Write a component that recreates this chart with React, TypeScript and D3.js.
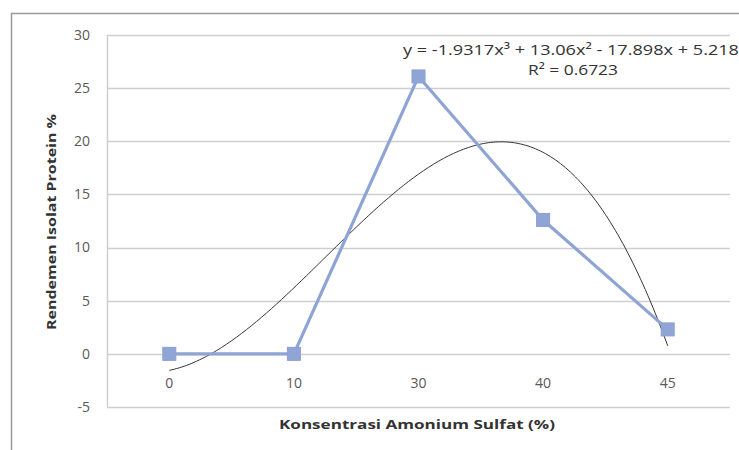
import React from "react";
import * as d3 from "d3";

const categories = ["0", "10", "30", "40", "45"];
const values = [0, 0, 26.1, 12.6, 2.3];
const yTicks = [-5, 0, 5, 10, 15, 20, 25, 30];
// trendline polynomial coefficients (x^3, x^2, x, const), x = 1..n
const trendCoefs = [-1.9317, 13.06, -17.898, 5.218];
const equationText = "y = -1.9317x³ + 13.06x² - 17.898x + 5.218";
const r2Text = "R² = 0.6723";
const yTitle = "Rendemen Isolat Protein %";
const xTitle = "Konsentrasi  Amonium Sulfat (%)";

export default function App() {
  const W = 739, H = 450;
  const left = 107, right = 730, top = 35, bottom = 407;
  const x = d3.scaleBand<string>().domain(categories).range([left, right]);
  const cx = (c: string) => (x(c) as number) + x.bandwidth() / 2;
  const y = d3.scaleLinear().domain([-5, 30]).range([bottom, top]);
  const font = "'Open Sans', 'Liberation Sans', sans-serif";

  const line = d3.line<number>().x((_, i) => cx(categories[i])).y((d) => y(d));

  const xt = d3.scaleLinear().domain([1, categories.length]).range([cx(categories[0]), cx(categories[categories.length - 1])]);
  const poly = (t: number) => trendCoefs[0] * t ** 3 + trendCoefs[1] * t ** 2 + trendCoefs[2] * t + trendCoefs[3];
  const ts = d3.range(1, 5.0001, 0.02);
  const trend = d3.line<number>().x((t) => xt(t)).y((t) => y(poly(t)))(ts);

  return (
    <svg width={W} height={H} style={{ position: "absolute", left: 0, top: 0, background: "#fff" }}>
      <rect x={0} y={0} width={W} height={H} fill="#fff" />
      {/* outer chart border */}
      <path d={`M11.5,${H} V13.5 H${W}`} fill="none" stroke="#9a9a9a" strokeWidth={1.5} />
      {/* gridlines */}
      {yTicks.map((t) => (
        <line key={t} x1={left} x2={right} y1={Math.round(y(t)) + 0.5} y2={Math.round(y(t)) + 0.5} stroke="#cfcfcf" strokeWidth={1.5} />
      ))}
      <line x1={left + 0.5} x2={left + 0.5} y1={top} y2={bottom} stroke="#cfcfcf" strokeWidth={1.5} />
      {/* y tick labels */}
      {yTicks.map((t) => (
        <text key={t} x={90} y={y(t)} dy="0.35em" textAnchor="end" fontFamily={font} fontSize={14} fill="#595959">
          {t}
        </text>
      ))}
      {/* x tick labels */}
      {categories.map((c) => (
        <text key={c} x={cx(c)} y={383} dy="0.35em" textAnchor="middle" fontFamily={font} fontSize={14} fill="#595959">
          {c}
        </text>
      ))}
      {/* trendline */}
      <path d={trend || ""} fill="none" stroke="#333" strokeWidth={1} />
      {/* series */}
      <path d={line(values) || ""} fill="none" stroke="#8ea4d4" strokeWidth={3.2} strokeLinejoin="round" />
      {values.map((v, i) => (
        <rect key={i} x={cx(categories[i]) - 6.5} y={y(v) - 6.5} width={13} height={13} fill="#8fa5d6" stroke="#8aa0d2" strokeWidth={1} />
      ))}
      {/* equation */}
      <text x={403} y={50} dy="0.35em" fontFamily={font} fontSize={14.5} fill="#333" textLength={336} lengthAdjust="spacingAndGlyphs">
        {equationText}
      </text>
      <text x={573} y={70} dy="0.35em" textAnchor="middle" fontFamily={font} fontSize={14.5} fill="#333" textLength={90} lengthAdjust="spacingAndGlyphs">
        {r2Text}
      </text>
      {/* axis titles */}
      <text transform={`translate(51,222) rotate(-90)`} textAnchor="middle" dy="0.35em" fontFamily={font} fontSize={13} fontWeight="bold" fill="#333" textLength={216} lengthAdjust="spacingAndGlyphs">
        {yTitle}
      </text>
      <text x={417} y={424} dy="0.35em" textAnchor="middle" fontFamily={font} fontSize={13} fontWeight="bold" fill="#333" textLength={276} lengthAdjust="spacingAndGlyphs">
        {xTitle}
      </text>
    </svg>
  );
}
